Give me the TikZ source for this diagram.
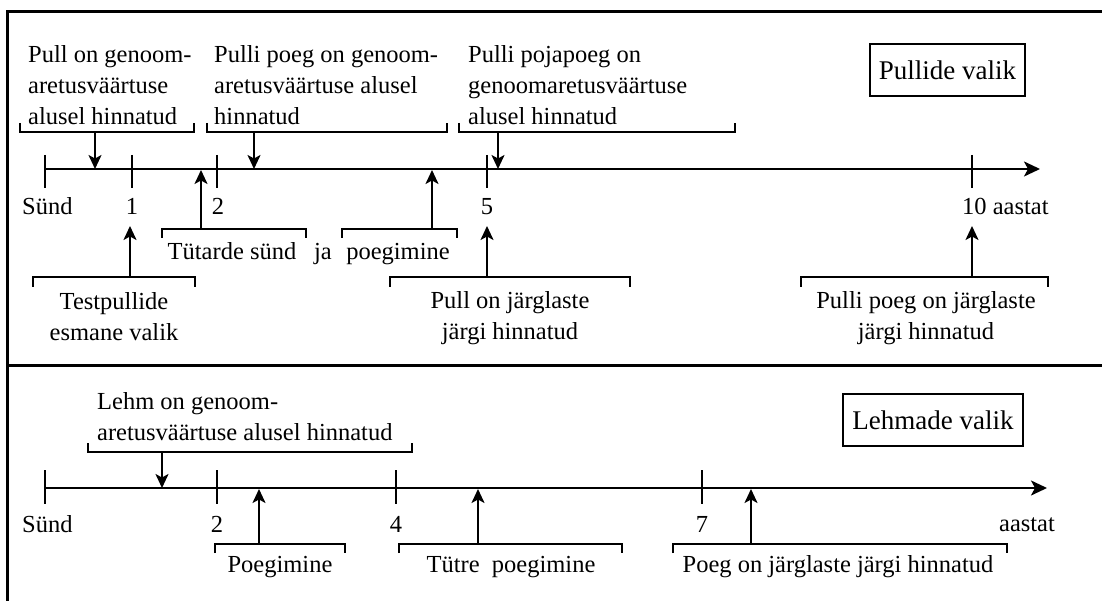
\documentclass[tikz,border=0pt]{standalone}
\usepackage{fontspec}
\setmainfont{Liberation Serif}
\usetikzlibrary{arrows.meta}
\tikzset{
	raam/.style={line width=3pt},
	telg/.style={line width=2pt,-{Stealth[length=16pt,width=15pt,inset=4pt]}},
	kriips/.style={line width=1.5pt},
	sulg/.style={line width=1.3pt},
	nool/.style={line width=2pt,-{Stealth[length=14pt,width=13pt,inset=3.5pt]}},
	silt/.style={font=\fontsize{24.5}{31}\selectfont,inner sep=0pt},
	kast/.style={draw,line width=1.5pt,font=\fontsize{27}{31}\selectfont,inner sep=0pt,minimum height=52pt},
}
\begin{document}
\begin{tikzpicture}[x=1pt,y=-1pt]
	\useasboundingbox (0,0) rectangle (1102,601);
	\draw[raam] (1102,12) -- (7,12) -- (7,601);
	\draw[raam] (7,365) -- (1102,365);
	% pullide valik
	\begin{scope}[shift={(0,169)}]
		\coordinate (p0) at (45,0);
		\coordinate (pEnd) at (1040,0);
		\draw[telg] (p0) -- (pEnd);
		\foreach \x in {45,132,217,487,972}
			\draw[kriips] (\x,-14) -- (\x,19);
		\node[silt,anchor=base west] (pSund) at (22,46) {Sünd};
		\foreach \x/\t in {132/1,218/2,487/5}
			\node[silt,anchor=base] (p\t) at (\x,46) {\t};
		\node[silt,anchor=base west] (p10) at (962,46) {10 aastat};
		\node[kast,minimum width=155pt] (pullid) at (947.5,-99) {Pullide valik};
		% ylemised
		\node[silt,anchor=base west,align=left] (pGen) at (28,-44) {Pull on genoom-\\aretusväärtuse\\alusel hinnatud};
		\node[silt,anchor=base west,align=left] (pPoeg) at (214,-44) {Pulli poeg on genoom-\\aretusväärtuse alusel\\hinnatud};
		\node[silt,anchor=base west,align=left] (pPoja) at (468,-44) {Pulli pojapoeg on\\genoomaretusväärtuse\\alusel hinnatud};
		\draw[sulg] (20,-46) |- (194,-37) -- (194,-46);
		\draw[sulg] (207,-46) |- (447,-37) -- (447,-46);
		\draw[sulg] (459,-46) |- (735,-37) -- (735,-46);
		\foreach \x/\n in {95/a,254/b,498/c} {
			\coordinate (ys\n) at (\x,-37);
			\coordinate (ya\n) at (\x,0);
			\draw[nool] (ys\n) -- (ya\n);
		}
		% alumised
		\node[silt,anchor=base] (pTut) at (232,91) {Tütarde sünd};
		\node[silt,anchor=base] (pJa) at (323,91) {ja};
		\node[silt,anchor=base] (pPoeg2) at (398,91) {poegimine};
		\draw[sulg] (162,69) |- (306,60) -- (306,69);
		\draw[sulg] (342,69) |- (457,60) -- (457,69);
		\foreach \x/\n in {201/a,432/b} {
			\coordinate (as\n) at (\x,60);
			\coordinate (aa\n) at (\x,1);
			\draw[nool] (as\n) -- (aa\n);
		}
		\node[silt,anchor=base,align=center] (pTest) at (114,171) {Testpullide\\esmane valik};
		\node[silt,anchor=base,align=center] (pJarg) at (510,170) {Pull on järglaste\\järgi hinnatud};
		\node[silt,anchor=base,align=center] (pJarg2) at (926,170) {Pulli poeg on järglaste\\järgi hinnatud};
		\draw[sulg] (33,118) |- (195,108) -- (195,118);
		\draw[sulg] (390,118) |- (630,108) -- (630,118);
		\draw[sulg] (801,118) |- (1048,108) -- (1048,118);
		\foreach \x/\n in {130/a,487/b,972/c} {
			\coordinate (ts\n) at (\x,108);
			\coordinate (ta\n) at (\x,57);
			\draw[nool] (ts\n) -- (ta\n);
		}
	\end{scope}
	% lehmade valik
	\begin{scope}[shift={(0,488)}]
		\coordinate (l0) at (45,0);
		\coordinate (lEnd) at (1047,0);
		\draw[telg] (l0) -- (lEnd);
		\foreach \x in {45,217,396,702}
			\draw[kriips] (\x,-18) -- (\x,16);
		\node[silt,anchor=base west] (lSund) at (22,44) {Sünd};
		\foreach \x/\t in {217/2,396/4,702/7}
			\node[silt,anchor=base] (l\t) at (\x,44) {\t};
		\node[silt,anchor=base] (lAastat) at (1027,43) {aastat};
		\node[kast,minimum width=180pt] (lehmad) at (933,-68) {Lehmade valik};
		\node[silt,anchor=base west,align=left] (lGen) at (97,-48) {Lehm on genoom-\\aretusväärtuse alusel hinnatud};
		\draw[sulg] (88,-45) |- (412,-36) -- (412,-45);
		\coordinate (lys) at (162,-36);
		\coordinate (lya) at (162,0);
		\draw[nool] (lys) -- (lya);
		\node[silt,anchor=base] (lPoeg) at (280,84) {Poegimine};
		\node[silt,anchor=base] (lTutre) at (511,84) {Tütre~ poegimine};
		\node[silt,anchor=base] (lJarg) at (838,84) {Poeg on järglaste järgi hinnatud};
		\draw[sulg] (215,65) |- (345,56) -- (345,65);
		\draw[sulg] (399,65) |- (622,56) -- (622,65);
		\draw[sulg] (673,65) |- (1007,56) -- (1007,65);
		\foreach \x/\n in {259/a,478/b,751/c} {
			\coordinate (ls\n) at (\x,56);
			\coordinate (la\n) at (\x,1);
			\draw[nool] (ls\n) -- (la\n);
		}
	\end{scope}
\end{tikzpicture}
\end{document}
